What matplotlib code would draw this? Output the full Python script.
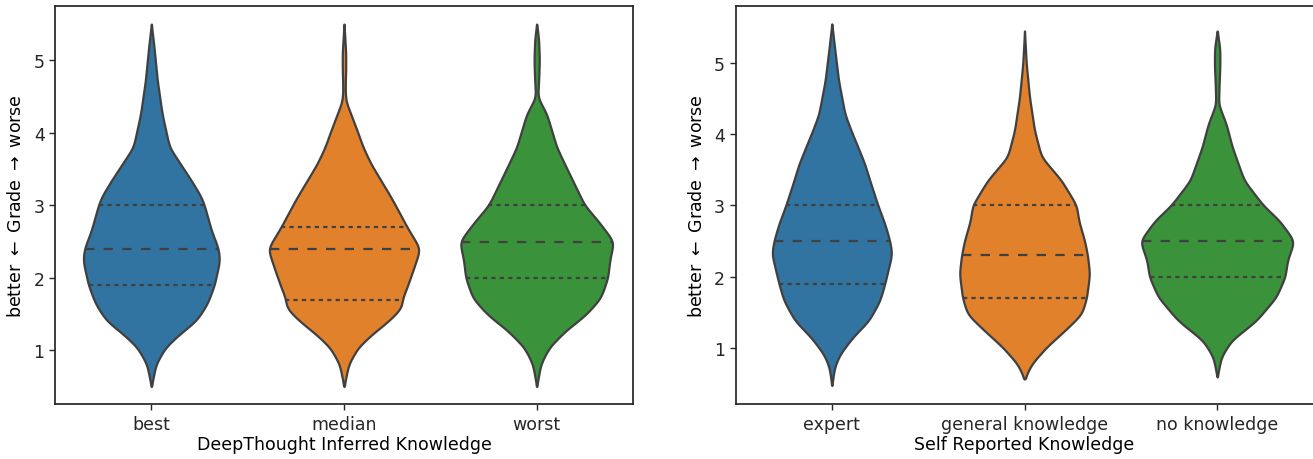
import numpy as np
import matplotlib
matplotlib.use("Agg")
import matplotlib.pyplot as plt

# violin outlines: grade value -> half width (x axis units)
best_y = [0.5, 0.81, 1.04, 1.22, 1.41, 1.64, 1.9, 2.24, 2.4, 2.65, 3.0, 3.11, 3.34, 3.57, 3.8, 4.26, 4.72, 5.18, 5.5]
best_w = [0, 0.024, 0.073, 0.145, 0.234, 0.29, 0.327, 0.355, 0.348, 0.312, 0.275, 0.26, 0.208, 0.151, 0.094, 0.056, 0.031, 0.014, 0]
median_y = [0.5, 0.81, 1.04, 1.22, 1.41, 1.59, 1.7, 1.87, 2.15, 2.4, 2.7, 2.88, 3.11, 3.34, 3.57, 3.8, 4.03, 4.26, 4.44, 4.6, 4.9, 5.1, 5.5]
median_w = [0, 0.024, 0.073, 0.145, 0.234, 0.301, 0.301, 0.327, 0.364, 0.395, 0.327, 0.291, 0.244, 0.192, 0.14, 0.099, 0.068, 0.035, 0.009, 0.006, 0.009, 0.009, 0]
worst_y = [0.5, 0.81, 1.04, 1.27, 1.49, 1.72, 2.0, 2.24, 2.5, 2.79, 3.0, 3.34, 3.57, 3.8, 4.03, 4.26, 4.49, 4.7, 5.0, 5.3, 5.5]
worst_w = [0, 0.021, 0.065, 0.15, 0.255, 0.332, 0.369, 0.379, 0.40, 0.317, 0.249, 0.187, 0.145, 0.104, 0.078, 0.052, 0.005, 0.01, 0.014, 0.01, 0]

expert_y = [0.47, 0.73, 0.91, 1.15, 1.38, 1.66, 1.9, 2.32, 2.5, 2.74, 3.0, 3.35, 3.58, 3.82, 4.05, 4.28, 4.75, 5.22, 5.55]
expert_w = [0, 0.014, 0.042, 0.109, 0.192, 0.249, 0.275, 0.312, 0.301, 0.275, 0.239, 0.197, 0.171, 0.135, 0.1, 0.068, 0.035, 0.014, 0]
general_y = [0.56, 0.77, 1.01, 1.24, 1.47, 1.7, 2.04, 2.3, 2.5, 2.79, 3.0, 3.35, 3.68, 4.05, 4.52, 4.99, 5.45]
general_w = [0, 0.036, 0.114, 0.208, 0.296, 0.322, 0.338, 0.327, 0.312, 0.281, 0.27, 0.192, 0.088, 0.052, 0.026, 0.009, 0]
none_y = [0.59, 0.87, 1.1, 1.38, 1.71, 2.0, 2.22, 2.5, 2.79, 3.0, 3.35, 3.82, 4.14, 4.42, 4.7, 4.95, 5.2, 5.45]
none_w = [0, 0.021, 0.073, 0.203, 0.306, 0.353, 0.364, 0.40, 0.322, 0.239, 0.14, 0.078, 0.047, 0.007, 0.01, 0.014, 0.014, 0]

# quartiles (q1, median, q3)
best_q = [1.9, 2.4, 3.0]
median_q = [1.7, 2.4, 2.7]
worst_q = [2.0, 2.5, 3.0]
expert_q = [1.9, 2.5, 3.0]
general_q = [1.7, 2.3, 3.0]
none_q = [2.0, 2.5, 3.0]

left_labels = ["best", "median", "worst"]
right_labels = ["expert", "general knowledge", "no knowledge"]
colors = ["#3274a1", "#e1812c", "#3a923a"]
line_col = "#404040"

plt.rcParams["font.family"] = ["DejaVu Sans"]
plt.rcParams["font.size"] = 12.5


def draw_violin(ax, pos, ys, ws, qs, color):
    grid = np.linspace(ys[0], ys[-1], 400)
    w = np.interp(grid, ys, ws)
    k = np.exp(-0.5 * (np.arange(-12, 13) / 5.0) ** 2)
    k /= k.sum()
    w = np.convolve(np.pad(w, 12, mode="edge"), k, mode="valid")
    w[0] = 0
    w[-1] = 0
    ax.fill_betweenx(grid, pos - w, pos + w, facecolor=color, edgecolor=line_col, linewidth=1.6, zorder=2)
    for i, q in enumerate(qs):
        h = np.interp(q, grid, w)
        if i == 1:
            ax.plot([pos - h, pos + h], [q, q], color=line_col, lw=1.6, dashes=[4.2, 4.2], zorder=3)
        else:
            ax.plot([pos - h, pos + h], [q, q], color=line_col, lw=1.6, dashes=[1.9, 1.9], zorder=3)


fig = plt.figure(figsize=(13.13, 4.6), dpi=100)
ax1 = fig.add_axes([55 / 1313, 1 - 405.3 / 460, 578 / 1313, 398.6 / 460])
ax2 = fig.add_axes([735.5 / 1313, 1 - 405.3 / 460, 578 / 1313, 398.6 / 460])

left_data = [(best_y, best_w, best_q), (median_y, median_w, median_q), (worst_y, worst_w, worst_q)]
right_data = [(expert_y, expert_w, expert_q), (general_y, general_w, general_q), (none_y, none_w, none_q)]

for ax, data, labels, xlabel, ylim in [
    (ax1, left_data, left_labels, "DeepThought Inferred Knowledge", (0.255, 5.753)),
    (ax2, right_data, right_labels, "Self Reported Knowledge", (0.206, 5.805)),
]:
    for i, (ys, ws, qs) in enumerate(data):
        draw_violin(ax, i, ys, ws, qs, colors[i])
    ax.set_xlim(-0.5, 2.5)
    ax.set_ylim(*ylim)
    ax.set_xticks(range(3))
    ax.set_xticklabels(labels)
    ax.set_yticks([1, 2, 3, 4, 5])
    ax.set_xlabel(xlabel, labelpad=2)
    ax.set_ylabel(r"better $\leftarrow$ Grade $\rightarrow$ worse", labelpad=6)
    ax.tick_params(direction="out", length=4, width=1, color="#262626", labelcolor="#262626")
    for s in ax.spines.values():
        s.set_linewidth(1.25)
        s.set_color("#262626")

fig.savefig("out.png", dpi=100)
